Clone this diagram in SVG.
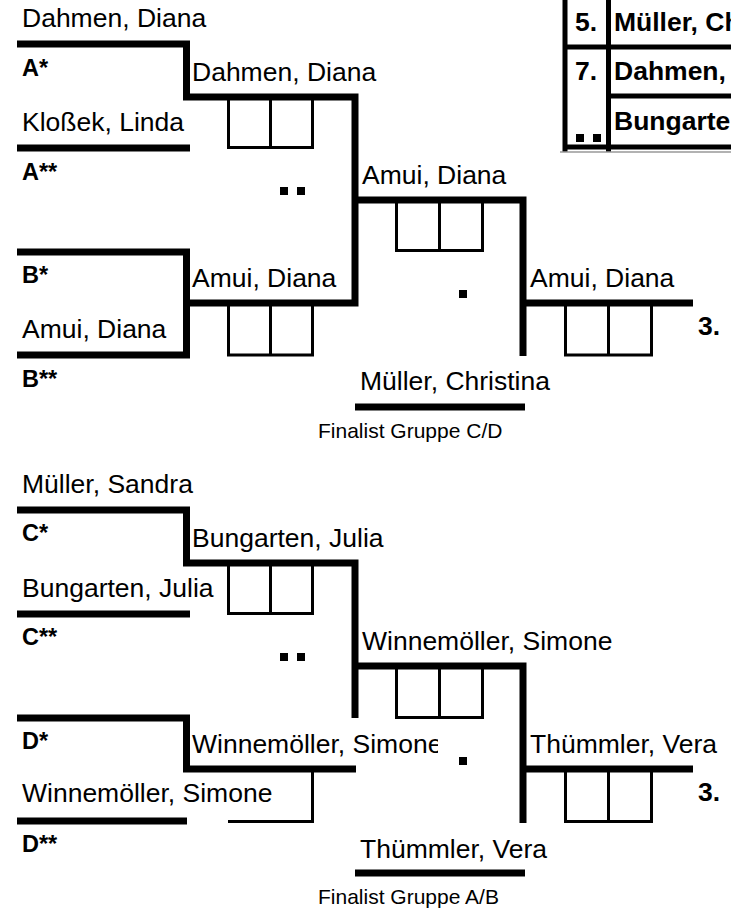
<svg xmlns="http://www.w3.org/2000/svg" width="731" height="914" viewBox="0 0 731 914">
<style>
text{font-family:"Liberation Sans",Arial,sans-serif;fill:#000}
.n{font-size:26.5px}
.b{font-size:23.5px;font-weight:bold}
.t{font-size:26.5px;font-weight:bold}
.s{font-size:21px}
.w{fill:none;stroke:#000;stroke-width:7;stroke-linejoin:miter}
.bx{fill:none;stroke:#000;stroke-width:3}
.tl{fill:none;stroke:#000;stroke-width:5}
.d{fill:#000}
</style>
<defs>
<clipPath id="cw"><rect x="190" y="720" width="248" height="45"/></clipPath>
</defs>
<rect width="731" height="914" fill="#fff"/>
<g id="connectors">
<path class="w" d="M17,44 H186.5 V97 H355 V303 H186.5"/>
<path class="w" d="M17,252 H186.5 V355 H17"/>
<path class="w" d="M17,148 H190"/>
<path class="w" d="M355,200 H523 V356"/>
<path class="w" d="M523,303 H693"/>
<path class="w" d="M355,407 H525"/>
<path class="w" d="M17,510 H186.5 V563 H355 V718"/>
<path class="w" d="M17,718 H186.5 V769 H356"/>
<path class="w" d="M17,614 H190"/>
<path class="w" d="M17,821 H187"/>
<path class="w" d="M355,666 H523 V823"/>
<path class="w" d="M523,769 H693"/>
<path class="w" d="M355,873 H525"/>
</g>
<g id="table">
<path class="tl" d="M565,0 V152 M608.5,0 V152 M563,47 H731 M608,96 H731 M563,147 H731"/>
<path d="M560,152 H731" stroke="#999" stroke-width="1.5"/>
<text class="t" x="575" y="31">5.</text>
<text class="t" x="614" y="31">Müller, Christina</text>
<text class="t" x="575" y="80">7.</text>
<text class="t" x="614" y="80">Dahmen, Diana</text>
<text class="t" x="614" y="130">Bungarten, Julia</text>
<rect class="d" x="576" y="134" width="8" height="8"/>
<rect class="d" x="593" y="134" width="8" height="8"/>
</g>
<g id="groupAB">
<g id="entryA1"><text class="n" x="22" y="27">Dahmen, Diana</text></g>
<g id="labelA1"><text class="b" x="22" y="76">A*</text></g>
<g id="entryA2"><text class="n" x="22" y="131">Kloßek, Linda</text></g>
<g id="labelA2"><text class="b" x="22" y="180">A**</text></g>
<g id="labelB1"><text class="b" x="22" y="283">B*</text></g>
<g id="entryB2"><text class="n" x="22" y="338">Amui, Diana</text></g>
<g id="labelB2"><text class="b" x="22" y="387">B**</text></g>
<g id="matchA">
<text class="n" x="192" y="81">Dahmen, Diana</text>
<path class="bx" d="M228.5,97 V147.5 H312.5 V97 M270.5,97 V147.5"/>
</g>
<g id="matchB">
<text class="n" x="192" y="287">Amui, Diana</text>
<path class="bx" d="M228.5,303 V355 H312.5 V303 M270.5,303 V355"/>
</g>
<rect class="d" x="280" y="187" width="8" height="8"/>
<rect class="d" x="297" y="187" width="8" height="8"/>
<g id="semiAB">
<text class="n" x="362" y="184">Amui, Diana</text>
<path class="bx" d="M396.5,200 V250.5 H482.5 V200 M439.5,200 V250.5"/>
</g>
<rect class="d" x="459" y="290" width="8" height="8"/>
<g id="finalAB">
<text class="n" x="530" y="287">Amui, Diana</text>
<path class="bx" d="M565.5,303 V355 H651.5 V303 M608.5,303 V355"/>
<text class="t" x="698" y="335">3.</text>
</g>
<g id="finalistCD">
<text class="n" x="360" y="390">Müller, Christina</text>
<text class="s" x="318" y="438">Finalist Gruppe C/D</text>
</g>
</g>
<g id="groupCD">
<g id="entryC1"><text class="n" x="22" y="493">Müller, Sandra</text></g>
<g id="labelC1"><text class="b" x="22" y="541">C*</text></g>
<g id="entryC2"><text class="n" x="22" y="597">Bungarten, Julia</text></g>
<g id="labelC2"><text class="b" x="22" y="645">C**</text></g>
<g id="labelD1"><text class="b" x="22" y="749">D*</text></g>
<g id="entryD2"><text class="n" x="22" y="802">Winnemöller, Simone</text></g>
<g id="labelD2"><text class="b" x="22" y="852">D**</text></g>
<g id="matchC">
<text class="n" x="192" y="547">Bungarten, Julia</text>
<path class="bx" d="M228.5,563 V613.5 H312.5 V563 M270.5,563 V613.5"/>
</g>
<g id="matchD">
<text class="n" x="192" y="753" clip-path="url(#cw)">Winnemöller, Simone</text>
<path class="bx" d="M312.5,769 V821.5 H228"/>
</g>
<rect class="d" x="280" y="653" width="8" height="8"/>
<rect class="d" x="297" y="653" width="8" height="8"/>
<g id="semiCD">
<text class="n" x="362" y="650">Winnemöller, Simone</text>
<path class="bx" d="M396.5,666 V717.5 H482.5 V666 M439.5,666 V717.5"/>
</g>
<rect class="d" x="459" y="757" width="8" height="8"/>
<g id="finalCD">
<text class="n" x="530" y="753">Thümmler, Vera</text>
<path class="bx" d="M565.5,769 V821.5 H651.5 V769 M608.5,769 V821.5"/>
<text class="t" x="698" y="801">3.</text>
</g>
<g id="finalistAB">
<text class="n" x="360" y="858">Thümmler, Vera</text>
<text class="s" x="318" y="904">Finalist Gruppe A/B</text>
</g>
</g>
</svg>
